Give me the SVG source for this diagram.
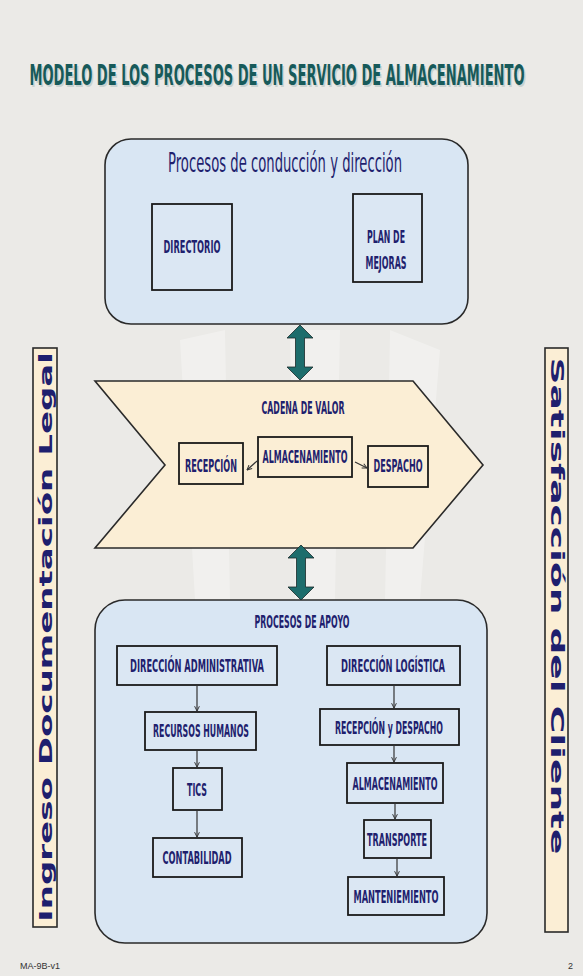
<svg xmlns="http://www.w3.org/2000/svg" width="583" height="976" viewBox="0 0 583 976">
<defs>
<style>
.bg{fill:#ebeae7}
.blue{fill:#d9e6f3;stroke:#2a2a2a;stroke-width:1.6}
.beige{fill:#fbeed5;stroke:#2a2a2a;stroke-width:1.6}
.ibox{fill:#dbe7f3;stroke:#1a1a1a;stroke-width:1.8}
.ibeige{fill:#fbeed5;stroke:#1a1a1a;stroke-width:1.8}
.lbl{font-family:"DejaVu Sans",sans-serif;font-weight:bold;fill:#1f1f6e;text-anchor:middle;font-size:18px}
.side{font-family:"DejaVu Sans",sans-serif;font-weight:bold;fill:#1f1f6e;text-anchor:middle;font-size:17px}
.conn{stroke:#333;stroke-width:1.2;fill:none;marker-end:url(#v)}
.dbl{fill:#1d6d6c;stroke:#1a2a2a;stroke-width:0.8}
</style>
<marker id="v" viewBox="0 0 10 10" refX="9" refY="5" markerWidth="6" markerHeight="6" orient="auto" markerUnits="userSpaceOnUse">
<path d="M1,1 L9,5 L1,9" fill="none" stroke="#333" stroke-width="1.6"/>
</marker>
</defs>
<rect class="bg" x="0" y="0" width="583" height="976"/>
<g opacity="0.3" fill="#ffffff">
<path d="M290,330 L340,330 L335,600 L295,600 Z"/>
<path d="M390,330 L440,350 L420,600 L385,600 Z"/>
<path d="M180,340 L225,330 L230,600 L195,600 Z"/>
</g>

<g id="title">
<text x="277" y="85" font-family="'DejaVu Sans',sans-serif" font-weight="bold" font-size="29" fill="#c9d2d0" text-anchor="middle" textLength="495" lengthAdjust="spacingAndGlyphs" transform="translate(1.5,1.5)">MODELO  DE LOS PROCESOS DE UN SERVICIO  DE ALMACENAMIENTO</text>
<text x="277" y="85" font-family="'DejaVu Sans',sans-serif" font-weight="bold" font-size="29" fill="#175a5a" text-anchor="middle" textLength="495" lengthAdjust="spacingAndGlyphs">MODELO  DE LOS PROCESOS DE UN SERVICIO  DE ALMACENAMIENTO</text>
</g>

<g id="conduccion">
<rect class="blue" x="105" y="139" width="363" height="185" rx="26"/>
<text x="285" y="172" font-family="'DejaVu Sans',sans-serif" font-size="27" fill="#1f1f6e" text-anchor="middle" textLength="234" lengthAdjust="spacingAndGlyphs">Procesos de conducción y dirección</text>
</g>
<g id="directorio">
<rect class="ibox" x="152" y="204" width="80" height="86"/>
<text class="lbl" x="192" y="253" textLength="57" lengthAdjust="spacingAndGlyphs">DIRECTORIO</text>
</g>
<g id="plan">
<rect class="ibox" x="353" y="194" width="69" height="88"/>
<text class="lbl" x="386" y="243" textLength="38" lengthAdjust="spacingAndGlyphs">PLAN DE</text>
<text class="lbl" x="386" y="269" textLength="41" lengthAdjust="spacingAndGlyphs">MEJORAS</text>
</g>

<g id="cadena">
<path class="beige" d="M95,381 L413,381 L483,465 L413,548 L95,548 L165,465 Z"/>
<text class="lbl" x="303" y="414" textLength="83" lengthAdjust="spacingAndGlyphs">CADENA DE VALOR</text>
</g>
<g id="recepcion">
<rect class="ibeige" x="179" y="443" width="64" height="41"/>
<text class="lbl" x="211" y="472" textLength="52" lengthAdjust="spacingAndGlyphs">RECEPCIÓN</text>
</g>
<g id="almacenamiento">
<rect class="ibeige" x="258" y="437" width="94" height="40"/>
<text class="lbl" x="305" y="463" textLength="85" lengthAdjust="spacingAndGlyphs">ALMACENAMIENTO</text>
</g>
<g id="despacho">
<rect class="ibeige" x="368" y="446" width="60" height="41"/>
<text class="lbl" x="398" y="472" textLength="49" lengthAdjust="spacingAndGlyphs">DESPACHO</text>
</g>

<g id="apoyo">
<rect class="blue" x="95" y="600" width="392" height="343" rx="30"/>
<text class="lbl" x="302" y="628" textLength="95" lengthAdjust="spacingAndGlyphs">PROCESOS DE APOYO</text>
</g>
<g id="dir-admin">
<rect class="ibox" x="117" y="646" width="160" height="39"/>
<text class="lbl" x="197" y="672" textLength="134" lengthAdjust="spacingAndGlyphs">DIRECCIÓN ADMINISTRATIVA</text>
</g>
<g id="dir-log">
<rect class="ibox" x="327" y="646" width="133" height="39"/>
<text class="lbl" x="393" y="672" textLength="104" lengthAdjust="spacingAndGlyphs">DIRECCIÓN LOGÍSTICA</text>
</g>
<g id="rrhh">
<rect class="ibox" x="145" y="712" width="111" height="38"/>
<text class="lbl" x="201" y="737" textLength="96" lengthAdjust="spacingAndGlyphs">RECURSOS HUMANOS</text>
</g>
<g id="recdesp">
<rect class="ibox" x="320" y="709" width="139" height="36"/>
<text class="lbl" x="389" y="734" textLength="108" lengthAdjust="spacingAndGlyphs">RECEPCIÓN y DESPACHO</text>
</g>
<g id="tics">
<rect class="ibox" x="173" y="768" width="49" height="42"/>
<text class="lbl" x="197" y="796" textLength="20" lengthAdjust="spacingAndGlyphs">TICS</text>
</g>
<g id="contabilidad">
<rect class="ibox" x="153" y="838" width="89" height="39"/>
<text class="lbl" x="197" y="864" textLength="69" lengthAdjust="spacingAndGlyphs">CONTABILIDAD</text>
</g>
<g id="alm2">
<rect class="ibox" x="347" y="763" width="96" height="40"/>
<text class="lbl" x="395" y="790" textLength="85" lengthAdjust="spacingAndGlyphs">ALMACENAMIENTO</text>
</g>
<g id="transporte">
<rect class="ibox" x="364" y="820" width="67" height="38"/>
<text class="lbl" x="397" y="846" textLength="60" lengthAdjust="spacingAndGlyphs">TRANSPORTE</text>
</g>
<g id="mantenimiento">
<rect class="ibox" x="348" y="877" width="96" height="38"/>
<text class="lbl" x="396" y="903" textLength="85" lengthAdjust="spacingAndGlyphs">MANTENIEMIENTO</text>
</g>

<g id="ingreso">
<rect class="beige" x="33" y="348" width="24" height="579"/>
<text class="side" transform="translate(52,637) rotate(-90)" x="0" y="0" textLength="570" lengthAdjust="spacingAndGlyphs">Ingreso  Documentación  Legal</text>
</g>
<g id="satisfaccion">
<rect class="beige" x="545" y="348" width="23" height="584"/>
<text class="side" transform="translate(551,606) rotate(90)" x="0" y="0" textLength="497" lengthAdjust="spacingAndGlyphs">Satisfacción  del  Cliente</text>
</g>

<g id="connectors">
<path class="dbl" d="M300,325 L313,338 L304.5,338 L304.5,367 L313,367 L300,380 L287,367 L295.5,367 L295.5,338 L287,338 Z"/>
<path class="dbl" d="M301,545 L314,558 L305.5,558 L305.5,587 L314,587 L301,600 L288,587 L296.5,587 L296.5,558 L288,558 Z"/>
<line class="conn" x1="257" y1="461" x2="247" y2="470"/>
<line class="conn" x1="355" y1="462" x2="367" y2="468"/>
<line class="conn" x1="197" y1="685" x2="197" y2="711"/>
<line class="conn" x1="197" y1="750" x2="197" y2="767"/>
<line class="conn" x1="197" y1="810" x2="197" y2="837"/>
<line class="conn" x1="394" y1="685" x2="394" y2="708"/>
<line class="conn" x1="394" y1="745" x2="394" y2="762"/>
<line class="conn" x1="395" y1="803" x2="395" y2="819"/>
<line class="conn" x1="397" y1="858" x2="397" y2="876"/>
</g>

<g id="footer">
<text x="20" y="969" font-family="'Liberation Sans',sans-serif" font-size="9" fill="#333">MA-9B-v1</text>
<text x="568" y="969" font-family="'Liberation Sans',sans-serif" font-size="9" fill="#333">2</text>
</g>
</svg>
